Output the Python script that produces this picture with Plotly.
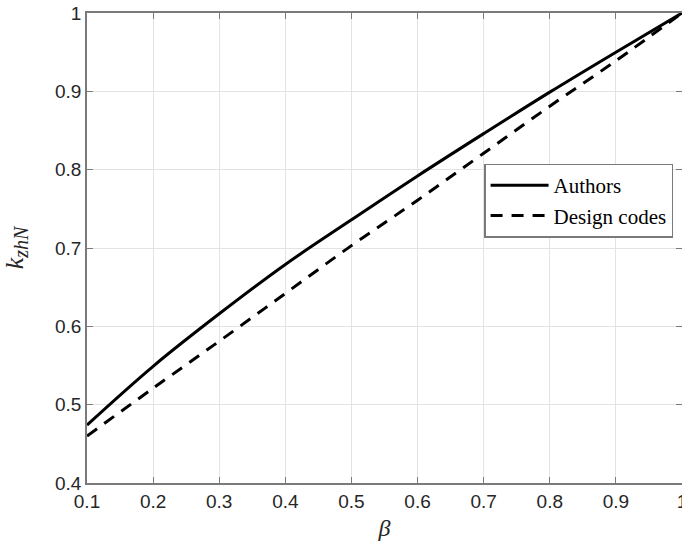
import plotly.graph_objects as go

beta = [0.1, 0.2, 0.3, 0.4, 0.5, 0.6, 0.7, 0.8, 0.9, 1.0]
authors = [0.474, 0.549, 0.616, 0.679, 0.736, 0.792, 0.846, 0.899, 0.950, 1.0]
design_codes = [0.460, 0.521, 0.581, 0.642, 0.703, 0.761, 0.821, 0.881, 0.939, 1.0]

x_ticks = [0.1, 0.2, 0.3, 0.4, 0.5, 0.6, 0.7, 0.8, 0.9, 1.0]
x_tick_labels = ["0.1", "0.2", "0.3", "0.4", "0.5", "0.6", "0.7", "0.8", "0.9", "1"]
y_ticks = [0.4, 0.5, 0.6, 0.7, 0.8, 0.9, 1.0]
y_tick_labels = ["0.4", "0.5", "0.6", "0.7", "0.8", "0.9", "1"]

fig = go.Figure()
fig.add_trace(go.Scatter(x=beta, y=authors, mode="lines", name="Authors",
                         line=dict(color="black", width=3, shape="spline")))
fig.add_trace(go.Scatter(x=beta, y=design_codes, mode="lines", name="Design codes",
                         line=dict(color="black", width=3, dash="12px,9px", shape="spline")))

axis_common = dict(showgrid=True, gridcolor="#e3e3e3", gridwidth=1, automargin=False,
                   showline=True, linecolor="#7a7a7a", linewidth=1.5, mirror="ticks",
                   ticks="inside", ticklen=6, tickcolor="#7a7a7a", zeroline=False,
                   ticklabeloverflow="allow",
                   tickfont=dict(family="Liberation Sans, Arial", size=19, color="#262626"))

fig.update_layout(
    width=682, height=544,
    margin=dict(l=87, r=0, t=13, b=61),
    paper_bgcolor="white", plot_bgcolor="white",
    xaxis=dict(range=[0.1, 1.0], tickvals=x_ticks, ticktext=x_tick_labels,
               title=dict(text="<i>β</i>", font=dict(family="Liberation Serif", size=24, color="#262626"),
                          standoff=9),
               **axis_common),
    yaxis=dict(range=[0.4, 1.0], tickvals=y_ticks, ticktext=y_tick_labels,
               title=dict(text="<i>k</i><sub><span style=\"font-size:20px\"><i>zhN</i></span></sub>",
                          font=dict(family="Liberation Serif", size=26, color="#262626"),
                          standoff=25),
               **axis_common),
    legend=dict(x=0.985, y=0.601, xanchor="right", yanchor="middle",
                bgcolor="white", bordercolor="#7a7a7a", borderwidth=1.5,
                font=dict(family="Liberation Serif", size=21, color="black"),
                tracegroupgap=0, itemwidth=58),
    showlegend=True,
)

# remove the page's default body margin so the figure fills the window exactly
fig.write_html("out.html", config={"displayModeBar": False},
               post_script="document.body.style.margin='0';document.body.style.overflow='hidden';")
